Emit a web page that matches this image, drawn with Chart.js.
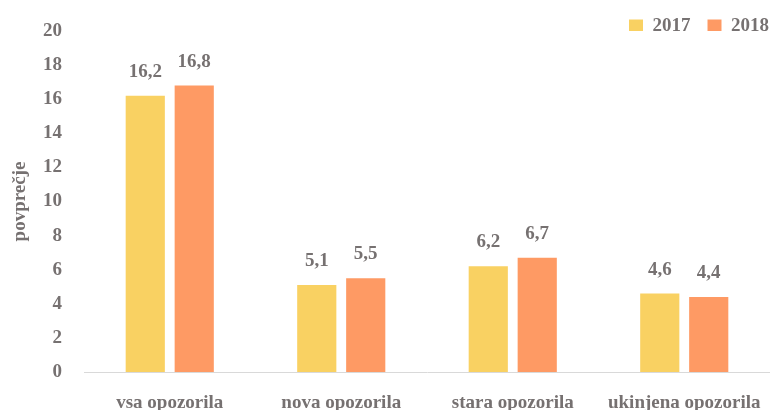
<!DOCTYPE html>
<html>
<head>
<meta charset="utf-8">
<script src="https://cdn.jsdelivr.net/npm/chart.js@4/dist/chart.umd.min.js"></script>
<style>
  html, body { margin: 0; padding: 0; background: #ffffff; overflow: hidden; }
  #wrap { width: 770px; height: 410px; position: relative; }
</style>
</head>
<body>
<div id="wrap"><canvas id="c"></canvas></div>
<script>
const categories = ['vsa opozorila', 'nova opozorila', 'stara opozorila', 'ukinjena opozorila'];
const seriesNames = ['2017', '2018'];
const values2017 = [16.2, 5.1, 6.2, 4.6];
const values2018 = [16.8, 5.5, 6.7, 4.4];
const yTicks = [0, 2, 4, 6, 8, 10, 12, 14, 16, 18, 20];
const yTitle = 'povprečje';

const textColor = '#767171';
const fontFamily = "'Liberation Serif', 'Times New Roman', serif";
const baseFont = { family: fontFamily, size: 19, weight: 'bold' };

const valueLabels = {
  id: 'valueLabels',
  afterDatasetsDraw(chart) {
    const ctx = chart.ctx;
    ctx.save();
    ctx.font = 'bold 19px ' + fontFamily;
    ctx.fillStyle = textColor;
    ctx.textAlign = 'center';
    ctx.textBaseline = 'alphabetic';
    chart.data.datasets.forEach((ds, i) => {
      const meta = chart.getDatasetMeta(i);
      meta.data.forEach((el, j) => {
        const v = ds.data[j];
        ctx.fillText(v.toFixed(1).replace('.', ','), el.x, el.y - 19);
      });
    });
    ctx.restore();
  }
};

const legendTweak = {
  id: 'legendTweak',
  beforeLayout(chart) {
    const lg = chart.legend;
    if (lg && !lg._patched) {
      const origFit = lg.fit.bind(lg);
      lg.fit = function () { origFit(); this.height = Math.max(0, this.height - 15); };
      lg._patched = true;
    }
  },
  afterLayout(chart) {
    if (chart.legend) {
      chart.legend.left += 16;
      chart.legend.right += 16;
    }
  }
};

new Chart(document.getElementById('c'), {
  type: 'bar',
  data: {
    labels: categories,
    datasets: [
      { label: seriesNames[0], data: values2017, backgroundColor: '#F9D162' },
      { label: seriesNames[1], data: values2018, backgroundColor: '#FE9A64' }
    ]
  },
  options: {
    responsive: true,
    maintainAspectRatio: false,
    animation: false,
    devicePixelRatio: 1,
    layout: { padding: { left: 0, right: 0, top: 0, bottom: 0 } },
    datasets: { bar: { categoryPercentage: 0.571, barPercentage: 0.8 } },
    plugins: {
      legend: {
        position: 'top',
        align: 'end',
        labels: {
          boxWidth: 14,
          boxHeight: 14,
          padding: 17,
          color: textColor,
          font: baseFont
        }
      },
      tooltip: { enabled: false }
    },
    scales: {
      x: {
        grid: { display: false, drawTicks: false },
        border: { display: true, color: '#d9d9d9', width: 1 },
        ticks: { color: textColor, font: baseFont, maxRotation: 0, autoSkip: false, padding: 20 },
        afterFit(scale) { scale.height = 38; scale.paddingLeft = 0; scale.paddingRight = 0; }
      },
      y: {
        min: 0,
        max: 20,
        grid: { display: false, drawTicks: false },
        border: { display: false },
        afterBuildTicks(scale) { scale.ticks = yTicks.map(v => ({ value: v })); },
        ticks: { color: textColor, font: baseFont, padding: 22 },
        title: { display: true, text: yTitle, color: textColor, font: baseFont, padding: { top: 9, bottom: 0 } },
        afterFit(scale) { scale.width = 84; scale.paddingTop = 0; scale.paddingBottom = 0; }
      }
    }
  },
  plugins: [valueLabels, legendTweak]
});
</script>
</body>
</html>
